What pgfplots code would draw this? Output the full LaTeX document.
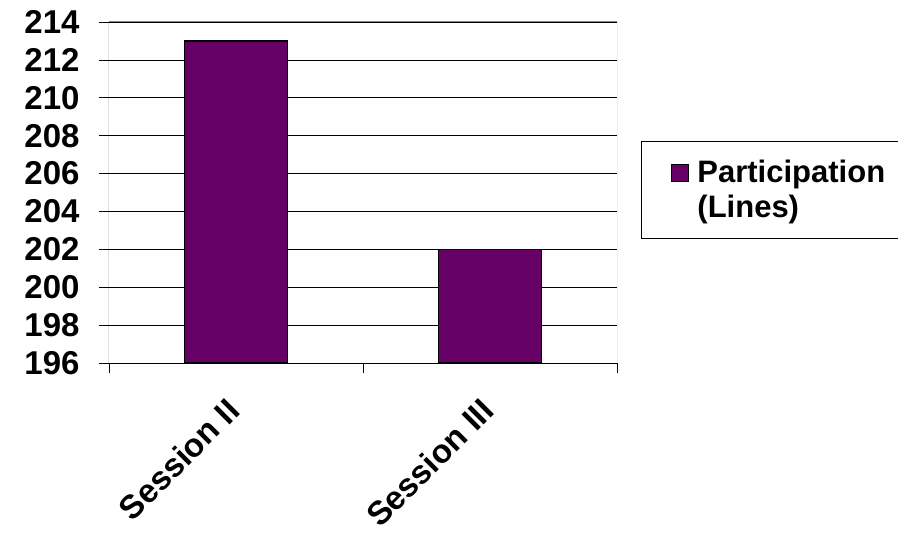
\documentclass[border=0pt]{standalone}
\usepackage{pgfplots}
\pgfplotsset{compat=1.18}
\usepackage{fontspec}
\setmainfont{Liberation Sans}
\definecolor{barcol}{HTML}{660066}
\begin{document}
\begin{tikzpicture}[x=1pt,y=1pt]
\useasboundingbox (0,0) rectangle (898,-534);
\begin{axis}[
  at={(109pt,-363pt)}, anchor=south west,
  scale only axis, width=508pt, height=341pt,
  xmin=-0.5, xmax=1.5, ymin=196, ymax=214,
  axis line style={draw=none},
  xtick pos=bottom, ytick pos=left,
  xtick={0,1}, xticklabels={Session II, Session III},
  major x tick style={draw=none},
  minor xtick={-0.5,0.5,1.5},
  minor x tick style={draw=black, line width=0.6pt},
  minor tick length=10pt,
  ytick={196,198,...,214},
  ymajorgrids, grid style={black, line width=0.6pt},
  y tick style={draw=black, line width=0.6pt},
  tick align=outside, major tick length=10pt,
  /pgf/number format/assume math mode=true,
  yticklabel style={font=\bfseries\fontsize{33}{38}\selectfont, xshift=-16pt},
  xticklabel style={font=\bfseries\fontsize{33}{38}\selectfont, rotate=45, anchor=north east, xshift=-21pt, yshift=-5pt},
  legend style={at={(1,0.5)}, anchor=west, xshift=24pt, yshift=3pt, draw=black, line width=0.6pt,
     font=\bfseries\fontsize{31}{35}\selectfont, cells={align=left}, inner xsep=30pt, inner ysep=17pt},
]
\addplot[ybar, bar width=103pt, fill=barcol, draw=black, line width=1.5pt,
  legend image code/.code={\draw[fill=barcol, draw=black, line width=0.8pt] (-1pt,8pt) rectangle (16pt,25pt); \path (22pt,0pt);}]
  coordinates {(0,213) (1,202)};
\addlegendentry{Participation\\(Lines)}
\draw[gray, line width=1pt] (rel axis cs:0,1) -- (rel axis cs:1,1) -- (rel axis cs:1,0);
\draw[black, line width=1pt] (rel axis cs:1,0) -- (rel axis cs:0,0) -- (rel axis cs:0,1);
\end{axis}
\end{tikzpicture}
\end{document}
